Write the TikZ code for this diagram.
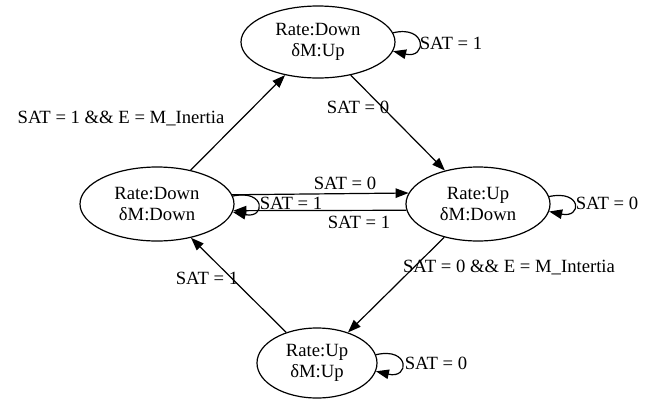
\documentclass[tikz,border=0pt]{standalone}
\usepackage{fontspec}
\setmainfont{Liberation Serif}
\usetikzlibrary{shapes.geometric,arrows.meta}
\begin{document}
\begin{tikzpicture}[x=1pt,y=-1pt,
  state/.style={ellipse,draw,line width=1.2pt,inner sep=0pt,align=center,
    font=\fontsize{18.67pt}{21pt}\selectfont},
  lbl/.style={inner sep=0pt,font=\fontsize{18.67pt}{21pt}\selectfont,
    text height=12.4pt,text depth=0pt},
  edge/.style={line width=1.2pt,-{Triangle[length=13pt,width=9.5pt]}},
]
\fill[white] (0,0) rectangle (657,400);
\useasboundingbox (0,0) rectangle (657,400);

\node[state,minimum width=154pt,minimum height=72pt] (top)   at (318,42)  {Rate:Down\\δM:Up};
\node[state,minimum width=154pt,minimum height=74pt] (left)  at (157,204) {Rate:Down\\δM:Down};
\node[state,minimum width=144pt,minimum height=74pt] (right) at (478,204) {Rate:Up\\δM:Down};
\node[state,minimum width=120pt,minimum height=70pt] (bot)   at (317,363) {Rate:Up\\δM:Up};

% diagonal edges
\draw[edge] (left) -- (top);
\draw[edge] (top) -- (right);
\draw[edge] (right) -- (bot);
\draw[edge] (bot) -- (left);

% horizontal edges
\draw[edge] (left.7.7) -- (right.171.8);
\draw[edge] (right.185.7) -- (left.-5.3);

% self loops
\draw[edge] (top.7) .. controls +(34,-8) and +(34,8) .. (top.-7);
\draw[edge] (left.6) .. controls +(33,-7) and +(33,7) .. (left.-6);
\draw[edge] (right.6) .. controls +(33,-7) and +(33,7) .. (right.-6);
\draw[edge] (bot.8) .. controls +(34,-8) and +(34,8) .. (bot.-8);

% labels
\node[lbl] (l1)  at (121,117) {SAT = 1 \&\& E = M\_Inertia};
\node[lbl] (l2)  at (358,107) {SAT = 0};
\node[lbl] (l3)  at (345,183) {SAT = 0};
\node[lbl] (l4)  at (359,222) {SAT = 1};
\node[lbl] (l5)  at (291,203) {SAT = 1};
\node[lbl] (l6)  at (607,203) {SAT = 0};
\node[lbl] (l7)  at (509,266) {SAT = 0 \&\& E = M\_Intertia};
\node[lbl] (l8)  at (207,278) {SAT = 1};
\node[lbl] (l9)  at (436,363) {SAT = 0};
\node[lbl] (l10) at (451,43)  {SAT = 1};
\end{tikzpicture}
\end{document}
